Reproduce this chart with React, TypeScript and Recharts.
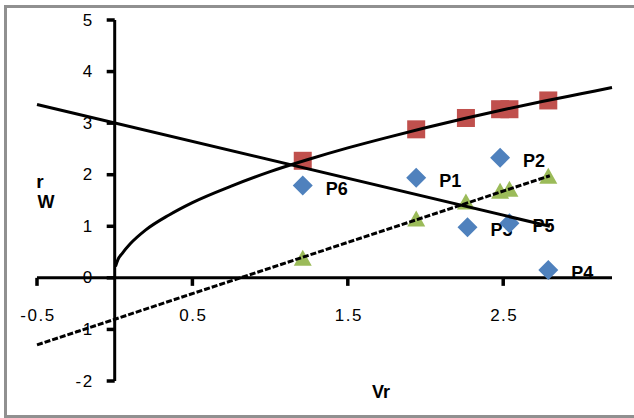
import { ReferenceLine, Scatter, ScatterChart, XAxis, YAxis } from 'recharts'

// points
const squareX = [1.21, 1.94, 2.26, 2.48, 2.54, 2.79]
const squareY = [2.27, 2.88, 3.1, 3.27, 3.27, 3.44]

const diamondX = [1.94, 2.48, 2.27, 2.79, 2.54, 1.21]
const diamondY = [1.94, 2.33, 0.98, 0.15, 1.06, 1.79]
const diamondNames = ['P1', 'P2', 'P3', 'P4', 'P5', 'P6']

const triangleX = [1.21, 1.94, 2.26, 2.48, 2.54, 2.79]
const triangleY = [0.37, 1.13, 1.46, 1.67, 1.71, 1.96]

// power trendline through the squares
const curveX = [0.005, 0.02, 0.05, 0.1, 0.2, 0.35, 0.5, 0.75, 1.0, 1.25, 1.5, 1.75, 2.0, 2.25, 2.5, 2.75, 3.0, 3.2]
const curveY = [0.22, 0.35, 0.48, 0.66, 0.93, 1.22, 1.46, 1.78, 2.06, 2.3, 2.52, 2.72, 2.91, 3.09, 3.26, 3.42, 3.57, 3.69]

// straight solid line and dashed linear trendline
const solidX = [-0.5, 2.8]
const solidY = [3.36, 1.0]
const dashedX = [-0.5, 2.8]
const dashedY = [-1.3, 1.98]

const xTicks = [-0.5, 0.5, 1.5, 2.5]
const yTicks = [-2, -1, 0, 1, 2, 3, 4, 5]

const zip = (xs: number[], ys: number[]) => xs.map((x, i) => ({ x, y: ys[i] }))

const squares = zip(squareX, squareY)
const diamonds = diamondX.map((x, i) => ({ x, y: diamondY[i], name: diamondNames[i] }))
const triangles = zip(triangleX, triangleY)
const curve = zip(curveX, curveY)
const solid = zip(solidX, solidY)
const dashed = zip(dashedX, dashedY)
// axes cross at the origin, so the ticks sit on the zero lines
const yTickPoints = yTicks.map((t) => ({ x: 0, y: t, label: String(t) }))
const xTickPoints = xTicks.map((t) => ({ x: t, y: 0, label: String(t) }))

const FONT = '"Liberation Sans", Arial, sans-serif'

const tickText = {
  fontFamily: FONT,
  fontSize: 17,
  letterSpacing: 1.5,
  fill: '#000',
}

const Square = ({ cx, cy }: any) => (
  <rect x={cx - 9} y={cy - 9} width={18} height={18} fill="#C0504D" />
)

const Diamond = ({ cx, cy, payload }: any) => (
  <g>
    <polygon
      points={`${cx},${cy - 10} ${cx + 10},${cy} ${cx},${cy + 10} ${cx - 10},${cy}`}
      fill="#4F81BD"
    />
    <text
      x={cx + 23}
      y={cy + 3}
      dominantBaseline="central"
      fontFamily={FONT}
      fontWeight="bold"
      fontSize={18}
      fill="#000"
    >
      {payload.name}
    </text>
  </g>
)

const Triangle = ({ cx, cy }: any) => (
  <polygon
    points={`${cx},${cy - 9} ${cx + 9},${cy + 7} ${cx - 9},${cy + 7}`}
    fill="#9BBB59"
  />
)

const YTick = ({ cx, cy, payload }: any) => (
  <g>
    <rect x={cx - 8} y={cy - 1.75} width={8} height={3.5} fill="#000" />
    <text x={cx - 21} y={cy} textAnchor="end" dominantBaseline="central" {...tickText}>
      {payload.label}
    </text>
  </g>
)

const XTick = ({ cx, cy, payload }: any) => (
  <g>
    <rect x={cx - 1.75} y={cy} width={3.5} height={8} fill="#000" />
    <text x={cx + 1} y={cy + 38} textAnchor="middle" dominantBaseline="central" {...tickText}>
      {payload.label}
    </text>
  </g>
)

const NoDot = () => <g />

export default function App() {
  return (
    <div
      style={{
        position: 'absolute',
        left: 0,
        top: 0,
        width: 634,
        height: 418,
        overflow: 'hidden',
        background: '#fff',
        fontFamily: FONT,
      }}
    >
      <div
        style={{
          position: 'absolute',
          left: 4,
          top: 5,
          width: 660,
          height: 413,
          boxSizing: 'border-box',
          border: '3px solid #909090',
        }}
      />
      <ScatterChart
        width={634}
        height={418}
        margin={{ top: 20, right: 22, bottom: 37, left: 37 }}
        style={{ position: 'absolute', left: 0, top: 0 }}
      >
        <XAxis type="number" dataKey="x" domain={[-0.5, 3.2]} hide />
        <YAxis type="number" dataKey="y" domain={[-2, 5]} hide />

        <Scatter data={yTickPoints} shape={YTick} isAnimationActive={false} />
        <Scatter data={xTickPoints} shape={XTick} isAnimationActive={false} />

        <ReferenceLine x={0} stroke="#000" strokeWidth={3} />
        <ReferenceLine y={0} stroke="#000" strokeWidth={3} />

        <Scatter data={diamonds} shape={Diamond} isAnimationActive={false} />
        <Scatter data={squares} shape={Square} isAnimationActive={false} />
        <Scatter data={triangles} shape={Triangle} isAnimationActive={false} />

        <Scatter
          data={curve}
          shape={NoDot}
          line={{ stroke: '#000', strokeWidth: 3 }}
          lineJointType="monotoneX"
          isAnimationActive={false}
        />
        <Scatter
          data={solid}
          shape={NoDot}
          line={{ stroke: '#000', strokeWidth: 3 }}
          isAnimationActive={false}
        />
        <Scatter
          data={dashed}
          shape={NoDot}
          line={{ stroke: '#000', strokeWidth: 3, strokeDasharray: '6 2' }}
          isAnimationActive={false}
        />
      </ScatterChart>
      <svg
        width={634}
        height={418}
        style={{ position: 'absolute', left: 0, top: 0, pointerEvents: 'none' }}
      >
        <text x={40} y={188} textAnchor="middle" fontFamily={FONT} fontWeight="bold" fontSize={19}>
          r
        </text>
        <text x={46} y={208} textAnchor="middle" fontFamily={FONT} fontWeight="bold" fontSize={18}>
          W
        </text>
        <text x={381} y={398} textAnchor="middle" fontFamily={FONT} fontWeight="bold" fontSize={18}>
          Vr
        </text>
      </svg>
    </div>
  )
}
